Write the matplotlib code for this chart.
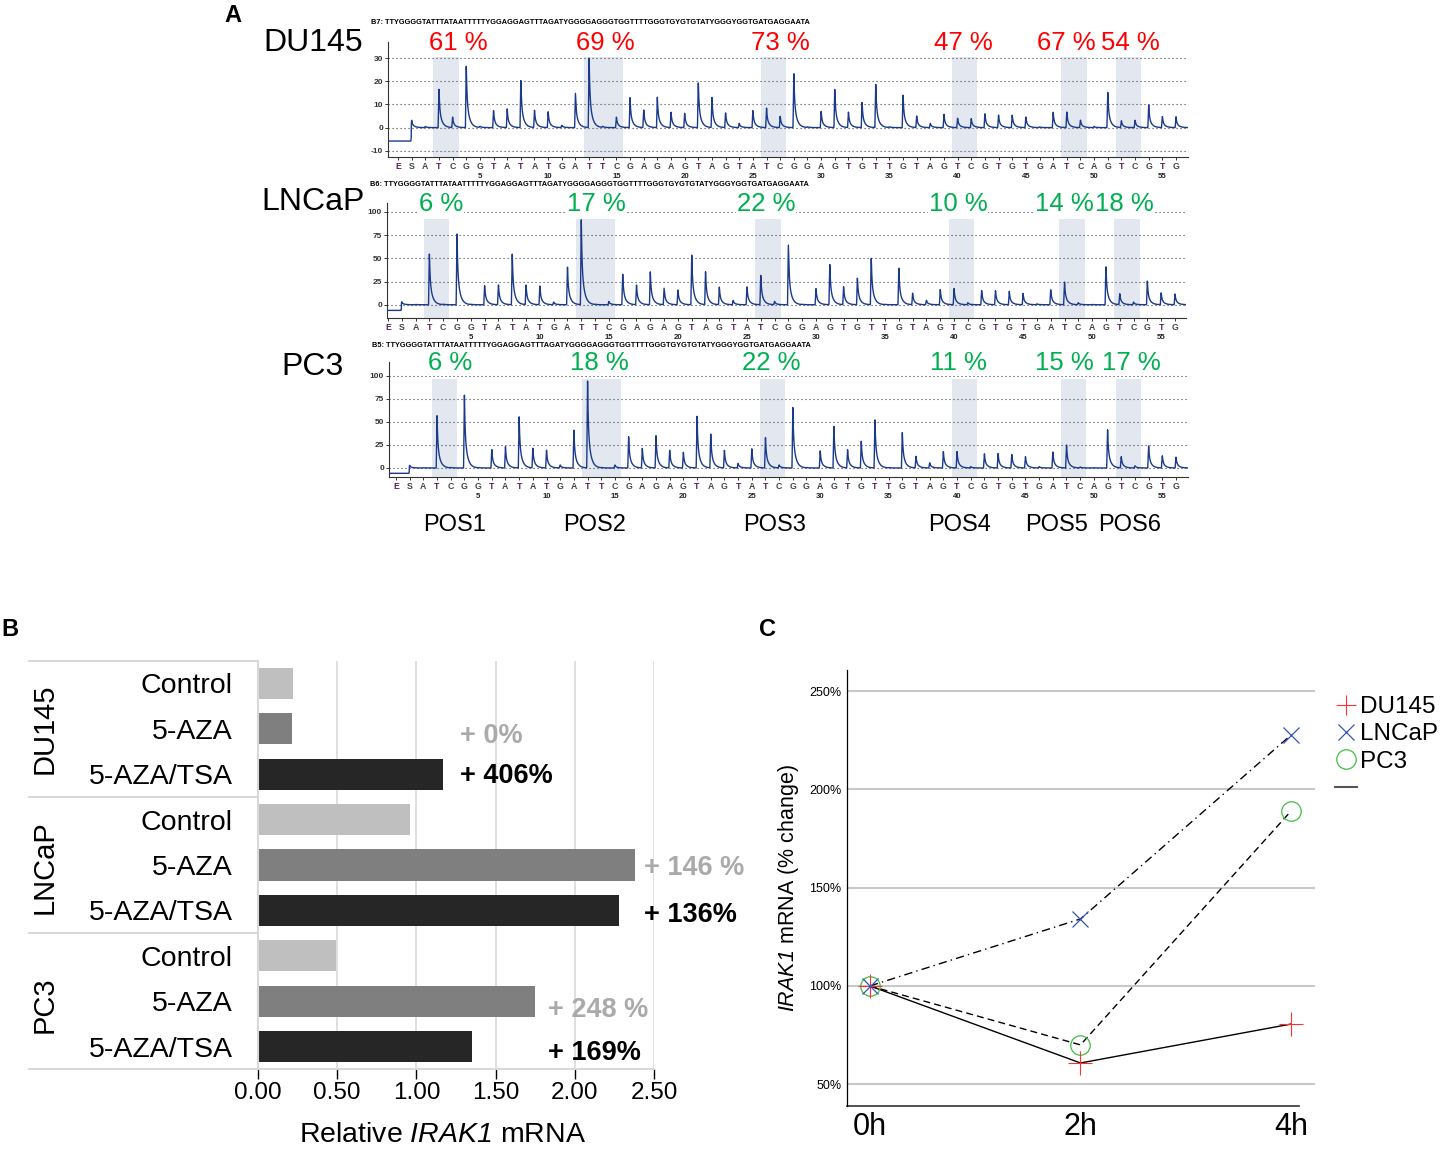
import numpy as np
import matplotlib
matplotlib.use("Agg")
import matplotlib.pyplot as plt
import matplotlib.transforms as mtrans
from matplotlib.lines import Line2D

plt.rcParams['font.family'] = ['Liberation Sans', 'DejaVu Sans']
plt.rcParams['mathtext.fontset'] = 'custom'
plt.rcParams['mathtext.it'] = 'Liberation Sans:italic'
plt.rcParams['mathtext.rm'] = 'Liberation Sans:italic'

# ---------------- panel A data (pyrosequencing) ----------------
dispensation = ['E', 'S'] + list("ATCGGTATATGATTCGAGAGTAGTATCGGAGTGTTGTAGTCGTGTGATCAGTCGTG")
sequence = "TTYGGGGTATTTATAATTTTTYGGAGGAGTTTAGATYGGGGAGGGTGGTTTTGGGTGYGTGTATYGGGYGGTGATGAGGAATA"

du145_peaks = [0.5, 17.4, 4.5, 27.8, 0.5, 7.6, 8.2, 21.0, 7.6, 7.0,
               1.0, 15.1, 31.0, 0.5, 4.7, 13.0, 7.9, 13.1, 6.9, 6.2,
               20.3, 13.1, 6.6, 1.9, 7.6, 8.6, 5.0, 23.9, 0.3, 7.2,
               16.7, 6.9, 10.9, 19.4, 0.3, 14.7, 5.0, 1.9, 5.8, 4.2,
               3.9, 6.2, 5.5, 5.5, 4.7, 0.3, 6.8, 6.8, 3.3, 0.5,
               15.8, 2.9, 3.3, 9.8, 5.0, 4.7]
lncap_peaks = [0.3, 57, 0.5, 77.7, 0.3, 21.2, 22.3, 56, 21.2, 20.5,
               2.9, 42, 93, 0.3, 3.6, 34.5, 21.6, 35.6, 18, 16.5,
               55.4, 36, 19, 4.7, 20.1, 32.4, 3.6, 65.5, 0.3, 18,
               43.9, 19.4, 29.5, 52.2, 0.3, 39.6, 12.6, 5, 16.9, 17.6,
               2.2, 15.8, 15.8, 14.7, 12.2, 1, 16.9, 25.2, 2.2, 0.3,
               42.4, 12.2, 2.9, 25.5, 13, 12.2]
pc3_peaks = [0.3, 57.6, 0.5, 80.4, 0.3, 20.3, 23.5, 56.5, 21.7, 19.6,
             3.3, 42, 96.4, 0.3, 3.3, 34.8, 21.7, 35.9, 19.6, 17.4,
             57.6, 37.7, 19.6, 5.1, 21.4, 34, 3.3, 67.8, 0.3, 19.2,
             46.7, 20.3, 30, 54, 0.3, 39.9, 13, 5.8, 18.5, 18.5,
             1.5, 16, 16.3, 15.2, 12.7, 1.5, 18.1, 26, 1, 0.3,
             43.5, 12.7, 2.5, 25, 13.8, 12.3]
s_peak = [3.3, 3.2, 2.9]
pre_base = [-5.8, -6.1, -5.8]

pos_ranges = [(2, 3), (13, 15), (26, 27), (40, 41), (48, 49), (52, 53)]
pos_names = ['POS1', 'POS2', 'POS3', 'POS4', 'POS5', 'POS6']
du145_pct = ['61 %', '69 %', '73 %', '47 %', '67 %', '54 %']
lncap_pct = ['6 %', '17 %', '22 %', '10 %', '14 %', '18 %']
pc3_pct = ['6 %', '18 %', '22 %', '11 %', '15 %', '17 %']

# ---------------- panel B data ----------------
treatments = ['Control', '5-AZA', '5-AZA/TSA'] * 3
rel_mrna = [0.22, 0.215, 1.17, 0.96, 2.38, 2.28, 0.49, 1.75, 1.35]
bar_colors = ['#bfbfbf', '#7f7f7f', '#262626'] * 3
groups = ['DU145', 'LNCaP', 'PC3']
change_text = ['+ 0%', '+ 406%', '+ 146 %', '+ 136%', '+ 248 %', '+ 169%']
change_x = [1.275, 1.275, 2.44, 2.44, 1.83, 1.83]
change_y = [1.16, 2.04, 4.07, 5.1, 7.2, 8.14]
change_col = ['#aaaaaa', 'black'] * 3

# ---------------- panel C data ----------------
time_labels = ['0h', '2h', '4h']
du145_time = [100, 60.8, 80.6]
lncap_time = [100, 134.1, 227.7]
pc3_time = [100, 70, 189]

W, H = 1442, 1149
fig = plt.figure(figsize=(W / 100, H / 100), dpi=100)


def box(l, t, r, b):
    return [l / W, 1 - b / H, (r - l) / W, (b - t) / H]


def trace(xs, heights, sh, pre):
    y = np.where(xs < -0.03, pre, 0.0)
    for p, h in zip(range(0, len(heights) + 1), [sh] + list(heights)):
        d = xs - p
        rise = np.clip((d + 0.06) / 0.06, 0, 1)
        decay = np.where(d > 0, 0.5 * np.exp(-d / 0.05) + 0.5 * np.exp(-d / 0.2), 1.0)
        y = y + h * rise * decay
    return y


pyro = [
    # peaks, name, pcts, header, box(l,t,r,b), xlim, ylim, yticks, shade top, header y, name y, pct x
    (du145_peaks, 'DU145', du145_pct, 'B7: ', (388, 42, 1188, 157), (-1.733, 56.88), (-12.7, 37),
     [-10, 0, 10, 20, 30], 30.6, 23, 43, [458, 605, 780, 963, 1066, 1130]),
    (lncap_peaks, 'LNCaP', lncap_pct, 'B6: ', (387, 203, 1186, 318), (-1.07, 56.8), (-14.3, 109.7),
     [0, 25, 50, 75, 100], 92, 185, 202, [441, 596, 766, 958, 1064, 1124]),
    (pc3_peaks, 'PC3', pc3_pct, 'B5: ', (389, 362, 1188, 477), (-1.51, 56.88), (-9.8, 115.2),
     [0, 25, 50, 75, 100], 96.5, 345, 367, [450, 599, 771, 958, 1064, 1131]),
]

for k, (pk, name, pct, hdr, bx, xl, yl, yt, stop, hy, ny, pxs) in enumerate(pyro):
    ax = fig.add_axes(box(*bx))
    xs = np.linspace(xl[0], xl[1], 8000)
    ax.plot(xs, trace(xs, pk, s_peak[k], pre_base[k]), color='#1b3a8c', lw=1.0, zorder=3)
    for v in yt:
        ax.axhline(v, color='#444444', lw=0.8, dashes=(1, 2.6), zorder=1)
    for (a, b) in pos_ranges:
        ax.axvspan(a - 0.4, b + 0.45, ymin=0, ymax=(stop - yl[0]) / (yl[1] - yl[0]),
                   color='#e3e8f0', lw=0, zorder=0)
    ax.set_xlim(*xl)
    ax.set_ylim(*yl)
    ax.set_yticks(yt)
    ax.set_yticklabels([str(v) for v in yt], fontsize=6, fontweight='bold')
    ax.set_xticks(range(-1, 57))
    ax.set_xticklabels(dispensation, fontsize=6.3, fontweight='bold')
    ax.tick_params(axis='both', length=2.5, width=0.7, pad=1, colors='#333333')
    for lab in ax.get_xticklabels():
        lab.set_color('#5c1f5c' if lab.get_text() in ('T', 'E') else '#444444')
    for n in range(5, 57, 5):
        ax.text(n, -0.135, str(n), transform=mtrans.blended_transform_factory(ax.transData, ax.transAxes),
                ha='center', va='top', fontsize=5.6, fontweight='bold', color='#222222')
    for s in ['top', 'right']:
        ax.spines[s].set_visible(False)
    for s in ['left', 'bottom']:
        ax.spines[s].set_color('#333333')
        ax.spines[s].set_linewidth(0.8)
    for t, px in zip(pct, pxs):
        fig.text(px / W, 1 - (bx[1] + 1) / H, t, ha='center', va='center', fontsize=18.5,
                 color='#ff0000' if k == 0 else '#00b050',
                 bbox=dict(facecolor='white', edgecolor='none', pad=0.3), zorder=5)
    fig.text((bx[0] - 17) / W, 1 - hy / H, hdr + sequence, fontsize=5.3, fontweight='bold',
             ha='left', va='center')
    fig.text(313 / W, 1 - ny / H, name, fontsize=23, ha='center', va='center')

pos_px = [455, 595, 775, 960, 1057, 1130]
for px, nm in zip(pos_px, pos_names):
    fig.text(px / W, 1 - 525 / H, nm, fontsize=17, ha='center', va='center')

fig.text(233 / W, 1 - 15 / H, 'A', fontsize=17, fontweight='bold', ha='center', va='center')
fig.text(10 / W, 1 - 630 / H, 'B', fontsize=17, fontweight='bold', ha='center', va='center')
fig.text(768 / W, 1 - 630 / H, 'C', fontsize=17, fontweight='bold', ha='center', va='center')

# ---------------- panel B ----------------
axb = fig.add_axes(box(258, 660.7, 654, 1069.3))
axb.set_axisbelow(True)
axb.barh(range(9), rel_mrna, height=0.69, color=bar_colors)
axb.set_xlim(0, 2.5)
axb.set_ylim(8.5, -0.5)
axb.set_xticks([0, 0.5, 1.0, 1.5, 2.0, 2.5])
axb.set_xticklabels(['0.00', '0.50', '1.00', '1.50', '2.00', '2.50'], fontsize=17.5)
axb.set_yticks(range(9))
axb.set_yticklabels(treatments, fontsize=20.5)
axb.tick_params(axis='y', length=0, pad=18)
axb.tick_params(axis='x', length=7, width=1, pad=2, direction='out')
axb.xaxis.grid(True, color='#d9d9d9', lw=1.2)
for s in ['top', 'right']:
    axb.spines[s].set_visible(False)
for s in ['left', 'bottom']:
    axb.spines[s].set_color('#d9d9d9')
    axb.spines[s].set_linewidth(1.5)
axb.set_xlabel('Relative $IRAK1$ mRNA', fontsize=20.5)
axb.xaxis.set_label_coords(0.465, -0.13)
for t, x, y, c in zip(change_text, change_x, change_y, change_col):
    axb.text(x, y, t, fontsize=19.5, fontweight='bold', color=c, ha='left', va='center')
for yy in [660.7, 796.7, 932.7, 1069.3]:
    fig.add_artist(Line2D([29 / W, 258 / W], [1 - yy / H, 1 - yy / H], color='#d9d9d9', lw=1.5))
for g, yy in zip(groups, [729, 867, 1005]):
    fig.text(45 / W, 1 - yy / H, g, fontsize=21, rotation=90, ha='center', va='center')

# ---------------- panel C ----------------
axc = fig.add_axes(box(847, 670, 1315, 1106))
tx = np.arange(len(time_labels))
axc.plot(tx, du145_time, color='black', lw=1.0, zorder=2)
axc.plot(tx, lncap_time, color='black', lw=1.0, dashes=(6, 3, 1, 3), zorder=2)
axc.plot(tx, pc3_time, color='black', lw=1.0, dashes=(5, 3), zorder=2)
axc.plot(tx, du145_time, ls='none', marker='+', ms=17, mew=0.8, color='#ff3030', zorder=4)
axc.plot(tx, lncap_time, ls='none', marker='x', ms=11, mew=0.9, color='#3355bb', zorder=4)
axc.plot(tx, pc3_time, ls='none', marker='o', ms=14, mew=0.9, mfc='none', mec='#44bb44', zorder=3)
axc.set_xlim(-0.109, 2.114)
axc.set_ylim(38.9, 260.8)
axc.set_yticks([50, 100, 150, 200, 250])
axc.set_yticklabels(['50%', '100%', '150%', '200%', '250%'], fontsize=9)
axc.yaxis.grid(True, color='#c8c8c8', lw=1.5)
axc.set_axisbelow(True)
axc.set_xticks(tx)
axc.set_xticklabels(time_labels, fontsize=22)
axc.tick_params(axis='both', length=0)
axc.tick_params(axis='y', pad=4)
axc.tick_params(axis='x', pad=4)
for s in ['top', 'right', 'bottom']:
    axc.spines[s].set_visible(False)
axc.spines['left'].set_linewidth(0.9)
axc.axhline(38.9, xmin=0, xmax=(1299 - 847) / (1315 - 847), color='#333333', lw=1.2, clip_on=False)
axc.set_ylabel('$IRAK1$ mRNA (% change)', fontsize=15.5, labelpad=6)

handles = [Line2D([], [], ls='none', marker='+', ms=15, mew=0.8, color='#ff3030'),
           Line2D([], [], ls='none', marker='x', ms=11, mew=0.9, color='#3355bb'),
           Line2D([], [], ls='none', marker='o', ms=14, mew=0.9, mfc='none', mec='#44bb44'),
           Line2D([], [], color='#555555', lw=1.5)]
fig.legend(handles, ['DU145', 'LNCaP', 'PC3', ' '], loc='upper left',
           bbox_to_anchor=(1335 / W, 1 - 696 / H), frameon=False, fontsize=17.5,
           handlelength=0.9, handletextpad=0.12, labelspacing=0.22, borderpad=0, borderaxespad=0)

fig.savefig('out.png', dpi=100)
